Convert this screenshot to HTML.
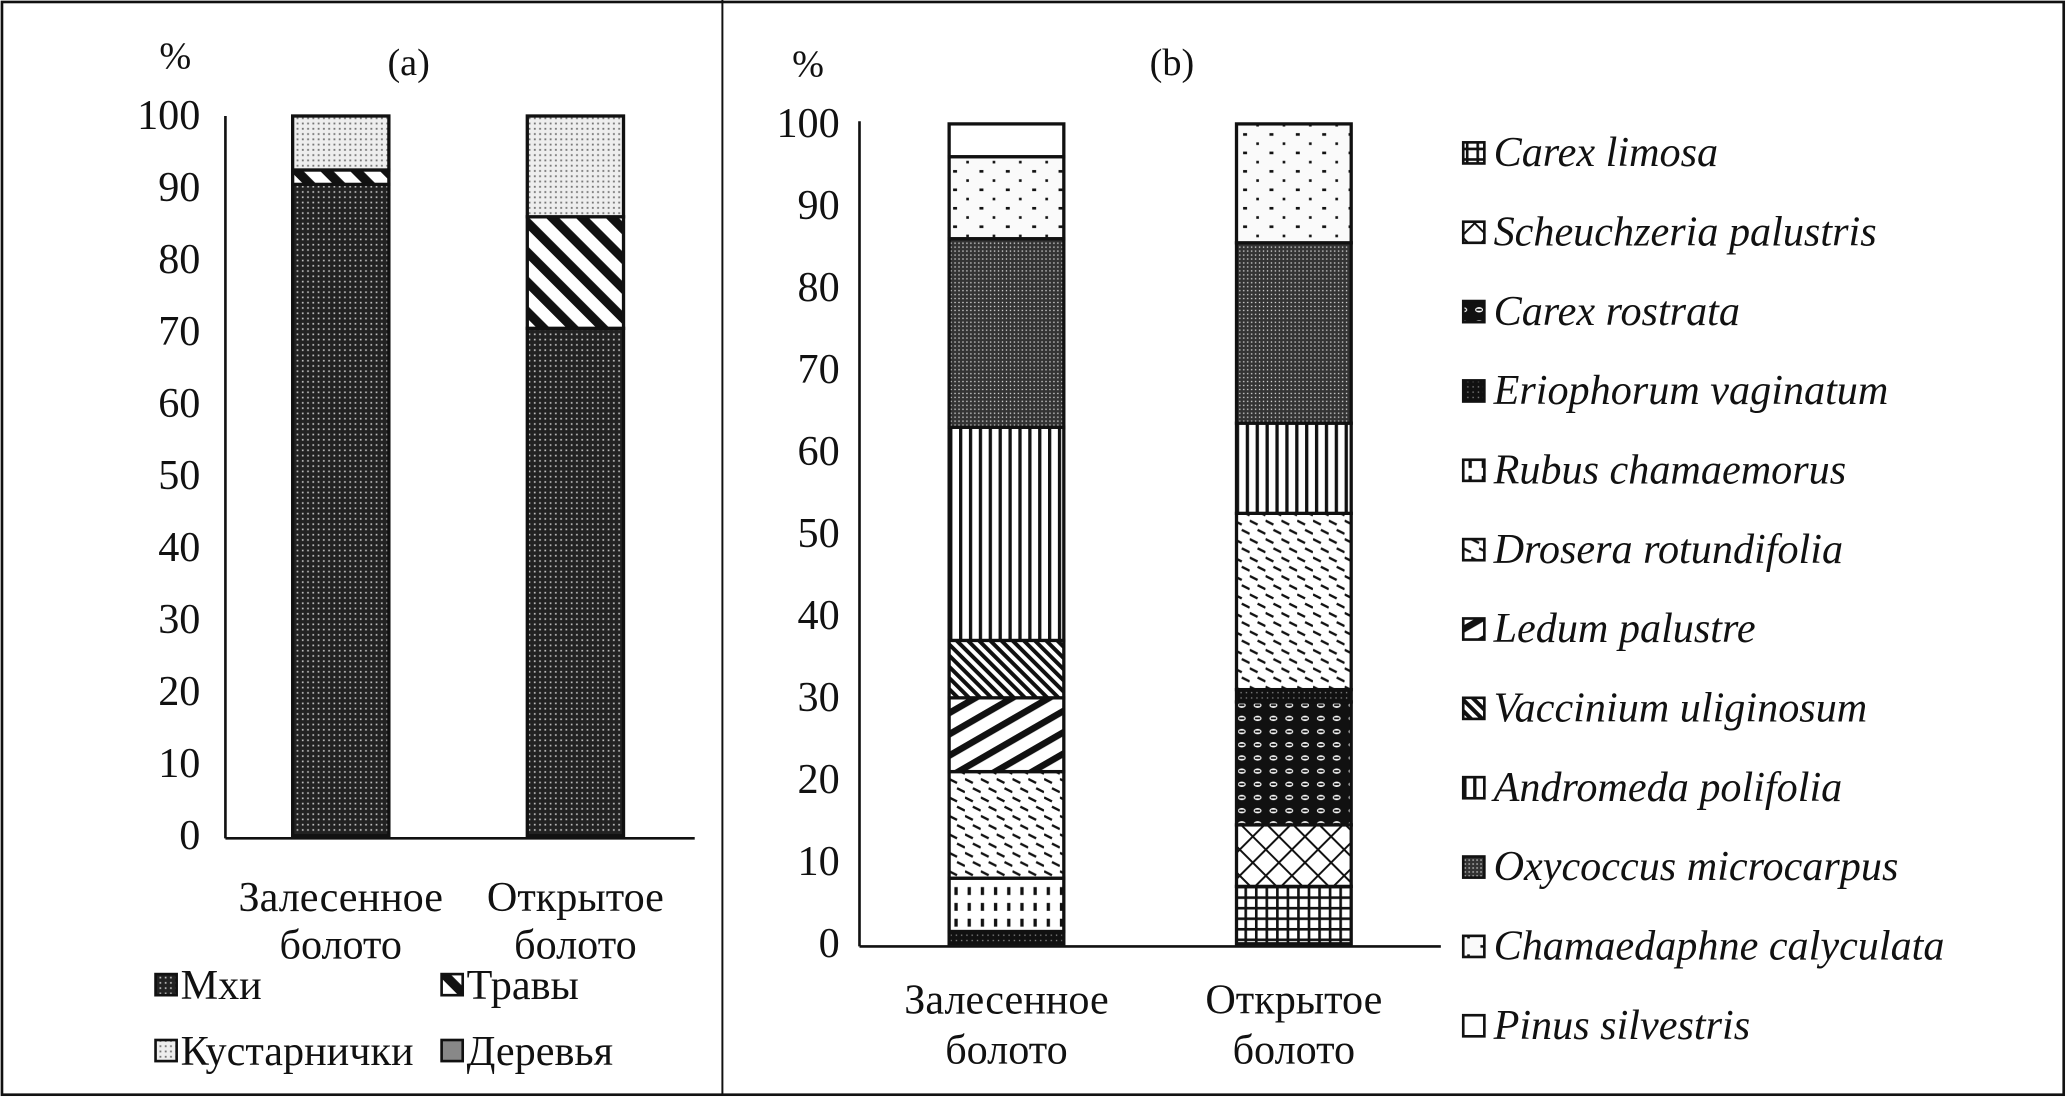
<!DOCTYPE html>
<html><head><meta charset="utf-8"><style>
html,body{margin:0;padding:0;background:#fff}
svg{display:block}
text{font-family:"Liberation Serif",serif;fill:#111}
</style></head><body>
<svg id="svg" width="2067" height="1098" viewBox="0 0 1568 833" preserveAspectRatio="none" xmlns="http://www.w3.org/2000/svg">
<defs>
<pattern id="p-moss" width="4" height="4" patternUnits="userSpaceOnUse"><rect width="4" height="4" fill="#222"/><rect x="1" y="1" width="1.3" height="1.3" fill="#bbb"/></pattern>
<pattern id="p-shrub" width="4" height="4" patternUnits="userSpaceOnUse"><rect width="4" height="4" fill="#eee"/><rect x="1" y="1" width="1.4" height="1.4" fill="#777"/></pattern>
<pattern id="p-grass" width="16" height="16" patternUnits="userSpaceOnUse" patternTransform="rotate(-45)"><rect width="16" height="16" fill="#fff"/><rect width="7" height="16" fill="#111"/></pattern>
<pattern id="p-tree" width="4" height="4" patternUnits="userSpaceOnUse"><rect width="4" height="4" fill="#888"/></pattern>
<pattern id="p-cl" width="8" height="8" patternUnits="userSpaceOnUse"><rect width="8" height="8" fill="#fff"/><rect width="8" height="2" fill="#111"/><rect width="2" height="8" fill="#111"/></pattern>
<pattern id="p-sch" width="14" height="14" patternUnits="userSpaceOnUse" patternTransform="rotate(45)"><rect width="14" height="14" fill="#fff"/><rect width="14" height="1.5" fill="#111"/><rect width="1.5" height="14" fill="#111"/></pattern>
<pattern id="p-cr" width="12" height="10" patternUnits="userSpaceOnUse"><rect width="12" height="10" fill="#111"/><ellipse cx="6" cy="5" rx="3" ry="2" fill="#fff"/><rect x="4" y="4.3" width="4" height="1.4" fill="#111"/></pattern>
<pattern id="p-erio" width="4" height="4" patternUnits="userSpaceOnUse"><rect width="4" height="4" fill="#111"/><rect x="1" y="1" width="1" height="1" fill="#888"/></pattern>
<pattern id="p-rub" width="10" height="12" patternUnits="userSpaceOnUse"><rect width="10" height="12" fill="#fff"/><rect x="4" y="1" width="2.5" height="6" fill="#111"/></pattern>
<pattern id="p-dro" width="12" height="14" patternUnits="userSpaceOnUse"><rect width="12" height="14" fill="#fff"/><path d="M0 3 L6 6 M6 10 L12 13" stroke="#111" stroke-width="1.8"/></pattern>
<pattern id="p-led" width="14" height="14" patternUnits="userSpaceOnUse" patternTransform="rotate(-30)"><rect width="14" height="14" fill="#fff"/><rect width="14" height="5" fill="#111"/></pattern>
<pattern id="p-vac" width="6" height="6" patternUnits="userSpaceOnUse" patternTransform="rotate(-45)"><rect width="6" height="6" fill="#fff"/><rect width="3" height="6" fill="#111"/></pattern>
<pattern id="p-and" width="7.5" height="10" patternUnits="userSpaceOnUse"><rect width="7.5" height="10" fill="#fff"/><rect width="2.5" height="10" fill="#111"/></pattern>
<pattern id="p-oxy" width="3" height="3" patternUnits="userSpaceOnUse"><rect width="3" height="3" fill="#333"/><rect x="1" y="1" width="1" height="1" fill="#ddd"/></pattern>
<pattern id="p-cham" width="20" height="14" patternUnits="userSpaceOnUse"><rect width="20" height="14" fill="#fafafa"/><rect x="3" y="3" width="3" height="2" fill="#111"/><rect x="13" y="10" width="2" height="2" fill="#111"/></pattern>
<pattern id="p-pin" width="4" height="4" patternUnits="userSpaceOnUse"><rect width="4" height="4" fill="#fff"/></pattern>
</defs>
<rect x="1.5" y="1.5" width="1564" height="829" fill="none" stroke="#111" stroke-width="2"/>
<line x1="548" y1="0" x2="548" y2="831" stroke="#111" stroke-width="1.5"/>
<g id="ga"></g>
<g id="gb"></g>
</svg>
<script>
// Panel (a)
const catsA = ["Залесенное|болото", "Открытое|болото"];
const seriesA = ["Мхи", "Травы", "Кустарнички", "Деревья"];
const mossA = [90.5, 70.5];
const grassA = [2, 15.5];
const shrubA = [7.5, 14];
const treeA = [0, 0];
const ticksA = [0,10,20,30,40,50,60,70,80,90,100];
// Panel (b)
const catsB = ["Залесенное|болото", "Открытое|болото"];
const speciesB = ["Carex limosa","Scheuchzeria palustris","Carex rostrata","Eriophorum vaginatum","Rubus chamaemorus","Drosera rotundifolia","Ledum palustre","Vaccinium uliginosum","Andromeda polifolia","Oxycoccus microcarpus","Chamaedaphne calyculata","Pinus silvestris"];
const forestB = [0, 0, 0, 1.5, 6.5, 13, 9, 7, 26, 23, 10, 4];
const openB = [7, 7.5, 15, 1.5, 0, 21.5, 0, 0, 11, 22, 14.5, 0];
const ticksB = [0,10,20,30,40,50,60,70,80,90,100];

const FS = 32;
const NS="http://www.w3.org/2000/svg";
function mk(parent, tag, attrs, txt){const e=document.createElementNS(NS,tag);for(const k in attrs)e.setAttribute(k,attrs[k]);if(txt!==undefined)e.textContent=txt;parent.appendChild(e);return e;}

// ---- panel a
const ga=document.getElementById('ga');
const yA=v=>634-5.46*v;
const barXA=[222,400], bwA=73;
const patsA=["p-moss","p-grass","p-shrub","p-tree"];
const valsA=[mossA,grassA,shrubA,treeA];
ticksA.forEach(t=>{const e=mk(ga,'text',{x:152,y:yA(t)+10,'text-anchor':'end','font-size':FS},String(t));

});
let e=mk(ga,'text',{x:133,y:52,'text-anchor':'middle','font-size':29},'%');


e=mk(ga,'text',{x:310,y:57,'text-anchor':'middle','font-size':29},'(a)');


catsA.forEach((c,i)=>{
  let base=0;
  valsA.forEach((arr,s)=>{const v=arr[i]; if(v<=0)return;
    const r=mk(ga,'rect',{x:barXA[i],y:yA(base+v),width:bwA,height:yA(base)-yA(base+v),fill:'url(#'+patsA[s]+')',stroke:'#111','stroke-width':2.5});
    
    
    base+=v;});
  const lines=c.split('|');
  lines.forEach((l,j)=>{const t=mk(ga,'text',{x:barXA[i]+bwA/2,y:691+j*36,'text-anchor':'middle','font-size':FS},l);
    
    });
});
e=mk(ga,'line',{x1:171,y1:88,x2:171,y2:636,stroke:'#111','stroke-width':2});


e=mk(ga,'line',{x1:171,y1:636,x2:527,y2:636,stroke:'#111','stroke-width':2});


const legPosA=[[118,748],[335,748],[118,798],[335,798]];
const legOrderA=[0,1,2,3];
legOrderA.forEach((s,k)=>{const [lx,ly]=legPosA[k];
  const r=mk(ga,'rect',{x:lx,y:ly-9,width:16,height:16,fill:'url(#'+patsA[s]+')',stroke:'#111','stroke-width':2});
  
  
  const t=mk(ga,'text',{x:lx+19,y:ly+10,'font-size':FS},seriesA[s]);
  
  });

// ---- panel b
const gb=document.getElementById('gb');
const yB=v=>716-6.22*v;
const barXB=[720,938], bwB=87;
const patsB=["p-cl","p-sch","p-cr","p-erio","p-rub","p-dro","p-led","p-vac","p-and","p-oxy","p-cham","p-pin"];
const valsB=[forestB,openB];
ticksB.forEach(t=>{const e=mk(gb,'text',{x:637,y:yB(t)+10,'text-anchor':'end','font-size':FS},String(t));

});
e=mk(gb,'text',{x:613,y:58,'text-anchor':'middle','font-size':29},'%');


e=mk(gb,'text',{x:889,y:57,'text-anchor':'middle','font-size':29},'(b)');


catsB.forEach((c,i)=>{
  let base=0;
  valsB[i].forEach((v,s)=>{ if(v<=0)return;
    const r=mk(gb,'rect',{x:barXB[i],y:yB(base+v),width:bwB,height:yB(base)-yB(base+v),fill:'url(#'+patsB[s]+')',stroke:'#111','stroke-width':2.5});
    
    
    base+=v;});
  c.split('|').forEach((l,j)=>{const t=mk(gb,'text',{x:barXB[i]+bwB/2,y:769+j*38,'text-anchor':'middle','font-size':FS},l);
    
    });
});
e=mk(gb,'line',{x1:652,y1:92,x2:652,y2:718,stroke:'#111','stroke-width':2});


e=mk(gb,'line',{x1:652,y1:718,x2:1093,y2:718,stroke:'#111','stroke-width':2});


speciesB.forEach((sp,k)=>{const ly=116+60.2*k;
  const r=mk(gb,'rect',{x:1110,y:ly-8,width:16,height:16,fill:'url(#'+patsB[k]+')',stroke:'#111','stroke-width':2});
  
  
  const t=mk(gb,'text',{x:1133,y:ly+10,'font-size':FS,'font-style':'italic'},sp);
  
  });
</script>
</body></html>
